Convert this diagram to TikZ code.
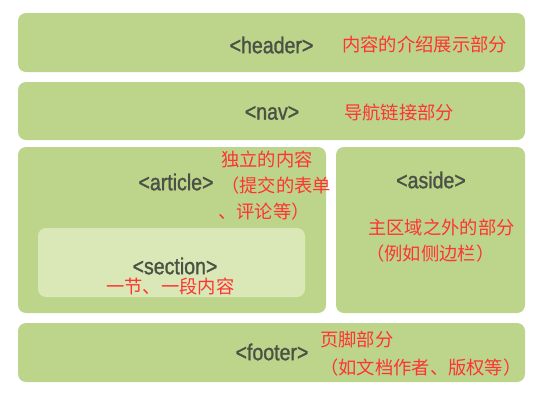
\documentclass[tikz,border=0pt]{standalone}
\usepackage{fontspec}
\setmainfont{Liberation Sans}
\newfontfamily\cjk{Noto Sans CJK SC}
\newfontfamily\tagfont[FakeStretch=0.85,FakeBold=1.3]{Liberation Sans}
\definecolor{boxgreen}{HTML}{BCD58A}
\definecolor{secgreen}{HTML}{D9E8B6}
\definecolor{taggray}{HTML}{4B5245}
\definecolor{notered}{HTML}{FF3333}
\tikzset{
  box/.style={fill=boxgreen, draw=none, rounded corners=8pt, inner sep=0pt},
  secbox/.style={fill=secgreen, draw=none, rounded corners=8pt, inner sep=0pt},
  tag/.style={text=taggray, font=\tagfont\fontsize{23}{26}\selectfont, inner sep=0pt},
  note/.style={text=notered, font=\cjk\fontsize{18.3}{22}\selectfont, inner sep=0pt, anchor=west},
}
\begin{document}
\begin{tikzpicture}[x=1pt,y=-1pt]
\useasboundingbox (0,0) rectangle (541,400);
% boxes
\node[box, minimum width=507pt, minimum height=59pt] (header) at (271.5,42.5) {};
\node[box, minimum width=507pt, minimum height=58pt] (nav) at (271.5,111) {};
\node[box, minimum width=308pt, minimum height=166pt] (article) at (172,230) {};
\node[box, minimum width=189pt, minimum height=166pt] (aside) at (430.5,230) {};
\node[secbox, minimum width=267pt, minimum height=69pt] (section) at (171.5,262.5) {};
\node[box, minimum width=507pt, minimum height=59pt] (footer) at (271.5,352.5) {};
% tags
\node[tag] (th) at (271.5,45) {<header>};
\node[tag] (tn) at (272,113) {<nav>};
\node[tag] (ta) at (176,182) {<article>};
\node[tag] (ts) at (431,180) {<aside>};
\node[tag] (tsec) at (175,266) {<section>};
\node[tag] (tf) at (272,352) {<footer>};
% notes
\node[note] (nh) at (342,45) {内容的介绍展示部分};
\node[note] (nn) at (344,113) {导航链接部分};
\node[note] (na1) at (221,159) {独立的内容};
\node[note] (na2) at (221,186) {（提交的表单};
\node[note] (na3) at (218,212) {、评论等）};
\node[note] (ns1) at (368,228) {主区域之外的部分};
\node[note] (ns2) at (366,254) {（例如侧边栏）};
\node[note] (nsec) at (106,287) {一节、一段内容};
\node[note] (nf1) at (320,340) {页脚部分};
\node[note] (nf2) at (320,368) {（如文档作者、版权等）};
\end{tikzpicture}
\end{document}
